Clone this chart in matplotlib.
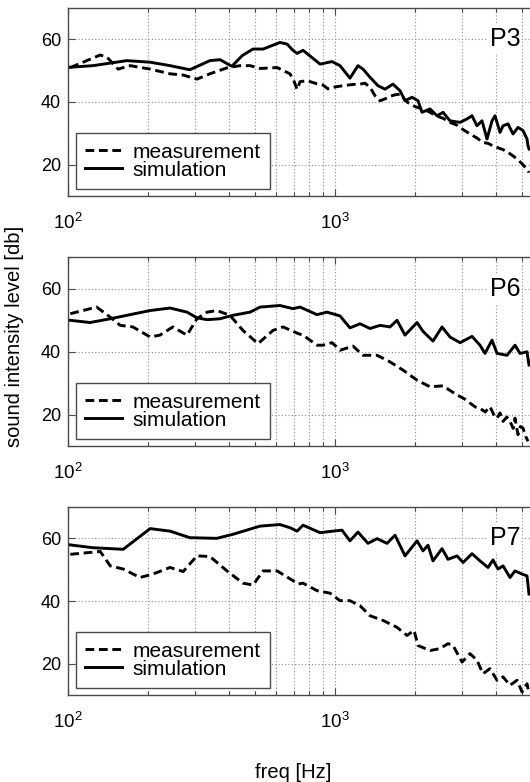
import matplotlib
matplotlib.use("Agg")
import matplotlib.pyplot as plt
from matplotlib.ticker import LogLocator, FixedLocator, NullFormatter

plt.rcParams['font.family'] = ['Liberation Sans', 'DejaVu Sans']
plt.rcParams['mathtext.fontset'] = 'custom'
plt.rcParams['mathtext.rm'] = 'Liberation Sans'

# ---------------- data ----------------
panel_names = ["P3", "P6", "P7"]
series_labels = ["measurement", "simulation"]
x_major_ticks = [100, 1000]
y_ticks = [20, 40, 60]

p3_meas_f = [102, 132, 140, 154, 171, 203, 241, 270, 304, 340, 394, 441, 481, 524, 607, 678, 700, 721,
             740, 786, 856, 902, 941, 1000, 1071, 1168, 1241, 1295, 1352, 1412, 1474, 1539, 1607, 1678,
             1752, 1797, 1861, 1943, 2029, 2136, 2269, 2410, 2539, 2696, 2864, 3017, 3204, 3402, 3584,
             3741, 3907, 4044, 4259, 4447, 4642, 4805, 5017, 5238, 5329]
p3_meas_v = [51, 55, 54.3, 50.5, 51.6, 50.5, 49, 48.6, 47.3, 49, 50.9, 51.6, 51.6, 50.7, 51, 49, 47, 44,
             46.5, 46.8, 45.8, 45.4, 44.2, 44.8, 45.2, 45.6, 45.7, 46, 44.7, 42, 40.4, 41, 41.8, 42.3,
             42.5, 41.5, 40, 39, 38.3, 37.8, 36.7, 35.5, 34.8, 33.5, 32.6, 31.2, 29.8, 28.5, 27.1,
             26.8, 26, 25.5, 24.8, 23.9, 22.8, 21.8, 20.3, 18.5, 17.5]
p3_sim_f = [102, 124, 166, 203, 241, 286, 340, 371, 411, 449, 493, 538, 622, 661, 696, 721, 759, 879,
            975, 1044, 1138, 1219, 1273, 1352, 1449, 1539, 1649, 1752, 1829, 1943, 2046, 2118, 2269,
            2410, 2539, 2696, 2940, 3122, 3260, 3402, 3553, 3710, 3873, 3975, 4150, 4259, 4447, 4642,
            4846, 5060, 5238, 5283, 5329]
p3_sim_v = [51.1, 51.6, 53.2, 52.7, 51.6, 50.3, 53.2, 53.5, 51.4, 54.8, 56.9, 56.9, 59, 58.5, 56.5,
            55.5, 56.5, 52.1, 52.9, 51.6, 47.6, 51.6, 50.5, 47.9, 45.2, 44.1, 45.7, 43.6, 40.4, 41.5,
            40.4, 36.7, 37.8, 35.6, 36.7, 34, 33.5, 34.6, 35.6, 32.4, 34, 28.2, 34, 35.6, 30.3, 32.4,
            33, 29.8, 31.9, 30.9, 28.2, 26, 25]

p6_meas_f = [102, 128, 144, 157, 175, 203, 221, 247, 279, 304, 332, 361, 404, 452, 515, 586, 639, 727,
             759, 856, 902, 975, 1044, 1168, 1273, 1437, 1607, 1797, 2029, 2269, 2539, 2700, 2864,
             3050, 3204, 3350, 3492, 3650, 3806, 3950, 4044, 4150, 4259, 4400, 4524, 4650, 4723, 4846,
             4950, 5060, 5180, 5283]
p6_meas_v = [52, 54.1, 50.9, 48.3, 47.8, 44.6, 45.2, 47.8, 45.2, 50.4, 52.5, 53, 51.5, 46.7, 42.5,
             46.7, 47.8, 45.7, 45.2, 42, 42, 42.8, 40.4, 41.7, 38.8, 38.8, 36.7, 34.1, 30.9, 28.8,
             29.1, 27.6, 26.2, 25, 23.6, 22.4, 22, 20.8, 22.5, 19.6, 18.8, 20.5, 17.8, 19.2, 17.8,
             15.6, 18.8, 13.6, 16.2, 15.7, 13, 11.5]
p6_sim_f = [102, 121, 144, 171, 203, 241, 279, 304, 332, 371, 415, 481, 524, 622, 696, 740, 786, 856,
            933, 1044, 1138, 1241, 1352, 1474, 1607, 1707, 1829, 2029, 2136, 2328, 2517, 2696, 2940,
            3260, 3492, 3646, 3873, 4044, 4409, 4723, 4931, 5238, 5329]
p6_sim_v = [49.9, 49.2, 50.4, 51.7, 53, 53.8, 52.5, 50.7, 50.1, 50.4, 51.5, 52.5, 54.1, 54.6, 53.6,
            54.1, 53.1, 51.7, 52.5, 51.3, 47.5, 48.8, 47.3, 48.3, 47.8, 49.9, 45.2, 49.2, 46.4, 43.3,
            47.8, 44.6, 42.8, 44.8, 42, 39.4, 43.6, 39.4, 38.8, 42, 39.4, 39.9, 35.7]

p7_meas_f = [102, 132, 144, 161, 186, 208, 241, 270, 304, 340, 394, 452, 493, 538, 607, 696, 727, 759,
             856, 958, 1044, 1138, 1241, 1352, 1513, 1707, 1861, 1977, 2046, 2269, 2474, 2650, 2767,
             2991, 3204, 3402, 3584, 3806, 4044, 4259, 4524, 4805, 5017, 5238, 5329]
p7_meas_v = [54.9, 55.8, 51.2, 50.2, 47.5, 48.6, 50.7, 49.4, 54.4, 54.2, 49.6, 45.7, 45.1, 49.6, 49.6,
             46.5, 45.4, 45.7, 43.3, 42.5, 40.1, 40.1, 38.5, 35.3, 33.8, 31.6, 29, 30.6, 25.8, 24.2,
             24.8, 26.4, 25.8, 20.5, 23.2, 21.1, 16.8, 18.4, 14.7, 15.8, 13.1, 14.7, 11, 13.6, 10.5]
p7_sim_f = [102, 124, 161, 203, 241, 286, 361, 415, 524, 622, 678, 721, 759, 879, 983, 1062, 1138,
            1219, 1329, 1437, 1566, 1678, 1829, 2029, 2136, 2230, 2328, 2517, 2650, 2864, 3017, 3260,
            3492, 3741, 3907, 4079, 4259, 4524, 4723, 5017, 5238, 5329]
p7_sim_v = [57.9, 57, 56.5, 63.1, 62.3, 60.2, 60, 61.3, 63.9, 64.4, 63.4, 62.3, 64.2, 61.8, 62.3, 62.6,
            59.2, 62, 58.4, 59.9, 58.4, 61, 54.4, 59.2, 56, 57.8, 52.8, 56.7, 53.3, 54.4, 52.3, 55.1,
            52.8, 50.7, 53.1, 50.2, 51.2, 47.5, 49.6, 48.6, 48, 42.2]

meas_f = [p3_meas_f, p6_meas_f, p7_meas_f]
meas_v = [p3_meas_v, p6_meas_v, p7_meas_v]
sim_f = [p3_sim_f, p6_sim_f, p7_sim_f]
sim_v = [p3_sim_v, p6_sim_v, p7_sim_v]

# ---------------- figure ----------------
W, H = 530, 782
fig = plt.figure(figsize=(W / 100, H / 100), dpi=100)

ax_left = 68 / W
ax_width = 534 / W
tops = [8, 257, 507]
bots = [196, 446, 695]

spine_col = '#4a4a4a'
for i in range(3):
    b = 1 - bots[i] / H
    h = (bots[i] - tops[i]) / H
    ax = fig.add_axes([ax_left, b, ax_width, h])
    ax.set_xscale('log')
    ax.set_xlim(100, 10000)
    ax.set_ylim(10, 70)
    ax.plot(meas_f[i], meas_v[i], color='black', lw=2.1, ls=(0, (3, 1.6)),
            label=series_labels[0], zorder=3)
    ax.plot(sim_f[i], sim_v[i], color='black', lw=2.1, ls='-',
            label=series_labels[1], zorder=3)

    ax.yaxis.set_major_locator(FixedLocator(y_ticks))
    ax.xaxis.set_major_locator(FixedLocator(x_major_ticks))
    ax.xaxis.set_minor_locator(LogLocator(base=10, subs=range(2, 10)))
    ax.xaxis.set_minor_formatter(NullFormatter())
    ax.grid(True, which='major', color='#8c8c8c', ls=(0, (1, 2)), lw=0.8)
    ax.grid(True, which='minor', axis='x', color='#8c8c8c', ls=(0, (1, 2)), lw=0.8)
    ax.set_axisbelow(True)
    ax.tick_params(which='both', direction='in', top=True, right=True, color=spine_col)
    ax.tick_params(which='major', length=5, width=0.8)
    ax.tick_params(which='minor', length=3, width=0.8)
    ax.tick_params(axis='y', labelsize=13, pad=5)
    ax.tick_params(axis='x', labelsize=13.5, pad=12)
    for s in ax.spines.values():
        s.set_color(spine_col)
        s.set_linewidth(1.0)

    ax.text(4330, 60, panel_names[i], fontsize=18, ha='center', va='center',
            bbox=dict(facecolor='white', edgecolor='none', pad=1.5), zorder=4)

    leg = ax.legend(loc='lower left', bbox_to_anchor=(0.015, 0.037), borderaxespad=0,
                    fontsize=15, handlelength=1.75, handletextpad=0.5,
                    labelspacing=-0.05, borderpad=0.45, fancybox=False, framealpha=1)
    leg.get_frame().set_edgecolor(spine_col)
    leg.get_frame().set_linewidth(1.0)

fig.text(15 / W, 1 - 336 / H, 'sound intensity level [db]', rotation=90,
         ha='center', va='center', fontsize=14.5)
fig.text(293 / W, 1 - 773 / H, 'freq [Hz]', ha='center', va='center', fontsize=14.5)

fig.savefig('out.png', dpi=100)
